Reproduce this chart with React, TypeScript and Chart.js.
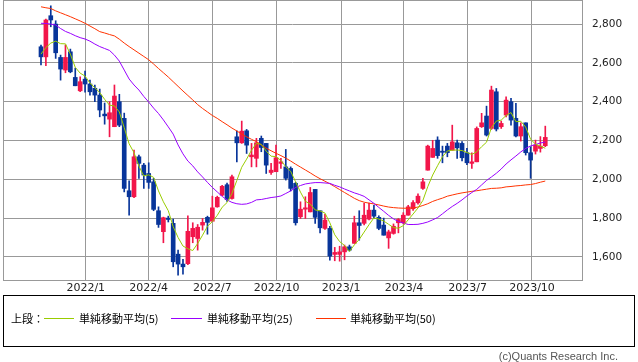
import { useEffect, useRef } from 'react';
import { Chart, registerables } from 'chart.js';

Chart.register(...registerables);

// Weekly candles, first week ending 2021-10-29
const firstWeek = '2021-10-29';

const opens = [
  2683, 2631, 2843, 2800, 2628, 2563, 2657, 2525, 2456, 2516,
  2491, 2469, 2434, 2336, 2310, 2271, 2400, 2314, 1941, 1910,
  2116, 2073, 2030, 1987, 1838, 1730, 1800, 1773, 1614, 1563,
  1565, 1704, 1695, 1764, 1804, 1784, 1858, 1918, 1972, 1901,
  2219, 2188, 2250, 2116, 2108, 2211, 2185, 2035, 2039, 2082,
  2064, 2056, 1979, 1807, 1846, 1832, 1948, 1838, 1747, 1747,
  1613, 1613, 1626, 1652, 1670, 1776, 1773, 1795, 1841, 1804,
  1764, 1698, 1721, 1776, 1776, 1815, 1848, 1879, 1953, 2047,
  2113, 2202, 2145, 2171, 2150, 2188, 2185, 2137, 2082, 2090,
  2271, 2326, 2262, 2451, 2271, 2331, 2400, 2314, 2223, 2291,
  2137, 2145, 2159, 2173,
];
const highs = [
  2692, 2826, 2894, 2817, 2640, 2692, 2671, 2573, 2528, 2558,
  2511, 2486, 2465, 2393, 2400, 2486, 2438, 2341, 1992, 2150,
  2125, 2082, 2085, 2005, 1858, 1805, 1810, 1795, 1635, 1587,
  1812, 1776, 1767, 1798, 1810, 1913, 1913, 1969, 1980, 2022,
  2250, 2300, 2257, 2185, 2211, 2223, 2185, 2082, 2176, 2108,
  2154, 2064, 1985, 1884, 1910, 1958, 1948, 1838, 1819, 1758,
  1649, 1655, 1661, 1661, 1810, 1838, 1876, 1878, 1866, 1812,
  1800, 1738, 1770, 1798, 1828, 1866, 1890, 1925, 2005, 2176,
  2201, 2219, 2171, 2185, 2279, 2202, 2195, 2159, 2137, 2270,
  2340, 2377, 2480, 2468, 2300, 2425, 2417, 2391, 2291, 2291,
  2168, 2202, 2220, 2274,
];
const lows = [
  2589, 2585, 2786, 2623, 2511, 2549, 2549, 2482, 2451, 2449,
  2434, 2400, 2322, 2284, 2219, 2271, 2271, 1935, 1815, 1905,
  2005, 1953, 1953, 1838, 1752, 1673, 1780, 1549, 1506, 1511,
  1560, 1673, 1635, 1738, 1717, 1784, 1856, 1915, 1886, 1898,
  2090, 2185, 2133, 2064, 2064, 2142, 2030, 2025, 2039, 2056,
  1996, 1940, 1764, 1798, 1798, 1832, 1773, 1724, 1742, 1583,
  1580, 1578, 1585, 1630, 1670, 1686, 1765, 1790, 1800, 1740,
  1712, 1644, 1717, 1724, 1770, 1815, 1840, 1872, 1948, 2047,
  2113, 2108, 2085, 2116, 2150, 2108, 2095, 2076, 2056, 2090,
  2267, 2223, 2257, 2249, 2262, 2322, 2279, 2219, 2197, 2125,
  2005, 2130, 2140, 2168,
];
const closes = [
  2631, 2821, 2821, 2652, 2568, 2628, 2554, 2482, 2503, 2491,
  2451, 2434, 2357, 2327, 2343, 2429, 2279, 1953, 1910, 2116,
  2082, 2022, 1984, 1845, 1767, 1802, 1793, 1575, 1563, 1549,
  1732, 1747, 1753, 1778, 1778, 1853, 1907, 1964, 1896, 2013,
  2188, 2248, 2176, 2125, 2188, 2164, 2073, 2047, 2111, 2090,
  2005, 1953, 1776, 1846, 1853, 1932, 1804, 1750, 1790, 1604,
  1623, 1626, 1652, 1635, 1776, 1762, 1815, 1841, 1810, 1747,
  1712, 1729, 1758, 1793, 1815, 1858, 1880, 1913, 1987, 2171,
  2159, 2122, 2139, 2137, 2193, 2162, 2111, 2085, 2090, 2262,
  2291, 2228, 2460, 2259, 2288, 2408, 2305, 2223, 2271, 2137,
  2099, 2176, 2171, 2216,
];
const ma5 = [
  2645, 2679, 2702, 2712, 2699, 2698, 2645, 2577, 2547, 2532,
  2496, 2472, 2447, 2412, 2382, 2378, 2347, 2266, 2183, 2137,
  2068, 2017, 2023, 2010, 1940, 1884, 1838, 1756, 1700, 1656,
  1642, 1633, 1669, 1712, 1758, 1782, 1814, 1856, 1880, 1927,
  1994, 2062, 2104, 2150, 2185, 2180, 2145, 2119, 2117, 2097,
  2065, 2041, 1987, 1934, 1887, 1872, 1842, 1837, 1826, 1776,
  1714, 1679, 1659, 1628, 1662, 1690, 1728, 1766, 1801, 1795,
  1785, 1768, 1751, 1748, 1761, 1791, 1821, 1852, 1891, 1962,
  2022, 2070, 2116, 2146, 2150, 2151, 2148, 2138, 2128, 2142,
  2168, 2191, 2266, 2300, 2305, 2329, 2344, 2297, 2299, 2269,
  2207, 2181, 2171, 2160,
];
const ma25 = [
  2804, 2803, 2800, 2795, 2777, 2762, 2752, 2740, 2730, 2723,
  2712, 2697, 2684, 2674, 2664, 2640, 2609, 2563, 2517, 2486,
  2460, 2427, 2398, 2367, 2339, 2306, 2270, 2233, 2177, 2131,
  2094, 2069, 2038, 2012, 1984, 1958, 1935, 1912, 1894, 1881,
  1874, 1871, 1873, 1881, 1894, 1896, 1901, 1906, 1909, 1914,
  1927, 1940, 1958, 1968, 1976, 1980, 1983, 1983, 1981, 1979,
  1969, 1961, 1950, 1940, 1930, 1922, 1912, 1894, 1876, 1855,
  1835, 1814, 1796, 1783, 1775, 1767, 1767, 1768, 1773, 1780,
  1791, 1803, 1822, 1842, 1860, 1876, 1894, 1914, 1932, 1948,
  1971, 1994, 2012, 2031, 2053, 2079, 2100, 2120, 2141, 2159,
  2172, 2179, 2187, 2192,
];
const ma50 = [
  2889, 2884, 2880, 2868, 2858, 2848, 2838, 2827, 2816, 2804,
  2790, 2776, 2761, 2754, 2746, 2739, 2722, 2702, 2684, 2667,
  2650, 2633, 2616, 2594, 2571, 2549, 2527, 2503, 2479, 2455,
  2432, 2409, 2385, 2365, 2347, 2329, 2314, 2297, 2281, 2264,
  2249, 2233, 2219, 2206, 2194, 2177, 2160, 2147, 2134, 2122,
  2109, 2094, 2078, 2063, 2048, 2033, 2017, 2003, 1990, 1977,
  1962, 1947, 1932, 1917, 1902, 1890, 1882, 1877, 1873, 1868,
  1862, 1857, 1854, 1852, 1851, 1851, 1852, 1857, 1865, 1874,
  1886, 1895, 1903, 1913, 1919, 1925, 1930, 1934, 1938, 1941,
  1945, 1949, 1953, 1954, 1956, 1961, 1963, 1966, 1968, 1971,
  1973, 1978, 1985, 1991,
];

const tickLabels = ['2022/1', '2022/4', '2022/7', '2022/10', '2023/1', '2023/4', '2023/7', '2023/10'];
const tickDates = ['2022-01-01', '2022-04-01', '2022-07-01', '2022-10-01', '2023-01-01', '2023-04-01', '2023-07-01', '2023-10-01'];
const yTicks = [1600, 1800, 2000, 2200, 2400, 2600, 2800];

const seriesNames = ['単純移動平均(5)', '単純移動平均(25)', '単純移動平均(50)'];
const seriesColors = ['#99cc00', '#9900ff', '#ff3300'];

const UP = '#f2164a';
const DOWN = '#08359a';

function weekPos(d: string) {
  return (Date.parse(d) - Date.parse(firstWeek)) / (7 * 86400000);
}

const framePlugin = {
  id: 'frame',
  beforeDatasetsDraw(chart: any) {
    const { ctx, chartArea: a } = chart;
    ctx.save();
    ctx.strokeStyle = '#999999';
    ctx.lineWidth = 1;
    ctx.strokeRect(Math.round(a.left) + 0.5, Math.round(a.top) + 0.5, Math.round(a.right - a.left), Math.round(a.bottom - a.top));
    ctx.restore();
  },
};

export default function App() {
  const ref = useRef<HTMLCanvasElement>(null);

  useEffect(() => {
    const canvas = ref.current;
    if (!canvas) return;
    const colors = closes.map((c, i) => (c >= opens[i] ? UP : DOWN));
    const maSets = [ma5, ma25, ma50].map((arr, k) => ({
      type: 'line' as const,
      label: seriesNames[k],
      data: arr.map((v, i) => ({ x: i, y: v })),
      borderColor: seriesColors[k],
      backgroundColor: seriesColors[k],
      borderWidth: 1,
      pointRadius: 0,
      tension: 0,
      order: k,
    }));
    const chart = new Chart(canvas, {
      type: 'bar',
      data: {
        datasets: [
          ...maSets,
          {
            type: 'bar',
            label: 'body',
            data: opens.map((o, i) => ({ x: i, y: [o, closes[i]] })),
            backgroundColor: colors,
            barThickness: 4,
            grouped: false,
            minBarLength: 1,
            order: 3,
          },
          {
            type: 'bar',
            label: 'wick',
            data: lows.map((l, i) => ({ x: i, y: [l, highs[i]] })),
            backgroundColor: colors,
            barThickness: 1,
            grouped: false,
            order: 4,
          },
        ] as any,
      },
      options: {
        animation: false,
        responsive: false,
        devicePixelRatio: 1,
        layout: { padding: { left: 3, top: 0, right: 0, bottom: 0 } },
        plugins: { legend: { display: false }, tooltip: { enabled: false } },
        scales: {
          x: {
            type: 'linear',
            min: -7.76,
            max: 110.5,
            offset: false,
            grid: { color: '#999999', offset: false, drawTicks: false, lineWidth: 1 },
            border: { display: false },
            ticks: {
              autoSkip: false,
              maxRotation: 0,
              minRotation: 0,
              padding: 2,
              color: '#222',
              font: { family: 'DejaVu Sans', size: 11 },
              callback: (_v: any, i: number) => tickLabels[i],
            },
            afterBuildTicks: (s: any) => {
              s.ticks = tickDates.map((d) => ({ value: weekPos(d) }));
            },
            afterFit: (s: any) => {
              s.height = 16;
              s.paddingLeft = 0;
              s.paddingRight = 0;
            },
          },
          y: {
            type: 'linear',
            position: 'right',
            min: 1481,
            max: 2924,
            grid: { color: '#999999', drawTicks: false, lineWidth: 1 },
            border: { display: false },
            ticks: {
              padding: 10,
              color: '#222',
              font: { family: 'DejaVu Sans', size: 10.5 },
              callback: (v: any) => Number(v).toLocaleString('en-US'),
            },
            afterBuildTicks: (s: any) => {
              s.ticks = yTicks.map((v) => ({ value: v }));
            },
            afterFit: (s: any) => {
              s.width = 56;
              s.paddingTop = 0;
              s.paddingBottom = 0;
            },
          },
        },
      } as any,
      plugins: [framePlugin],
    });
    return () => chart.destroy();
  }, []);

  const legendText: any = {
    position: 'absolute',
    top: 312,
    fontFamily: '"Noto Sans CJK JP", sans-serif',
    fontSize: 11,
    lineHeight: '12px',
    color: '#000',
    whiteSpace: 'nowrap',
  };
  const lineStyle = (left: number, width: number, color: string): any => ({
    position: 'absolute',
    left,
    top: 318,
    width,
    height: 1,
    background: color,
  });

  return (
    <div style={{ position: 'absolute', left: 0, top: 0, width: 638, height: 362, background: '#fff', overflow: 'hidden' }}>
      <canvas ref={ref} width={638} height={296} style={{ position: 'absolute', left: 0, top: 0, width: 638, height: 296 }} />
      <div style={{ position: 'absolute', left: 3, top: 295, width: 632, height: 52, border: '1px solid #000', boxSizing: 'border-box' }} />
      <span style={{ ...legendText, left: 11 }}>上段：</span>
      <div style={lineStyle(44, 30, seriesColors[0])} />
      <span style={{ ...legendText, left: 79 }}>{seriesNames[0]}</span>
      <div style={lineStyle(171, 31, seriesColors[1])} />
      <span style={{ ...legendText, left: 207 }}>{seriesNames[1]}</span>
      <div style={lineStyle(316, 30, seriesColors[2])} />
      <span style={{ ...legendText, left: 350 }}>{seriesNames[2]}</span>
      <span
        style={{
          position: 'absolute',
          right: 20,
          top: 349,
          fontFamily: '"Liberation Sans", Arial, sans-serif',
          fontSize: 11,
          lineHeight: '14px',
          color: '#555',
          whiteSpace: 'nowrap',
        }}
      >
        (c)Quants Research Inc.
      </span>
    </div>
  );
}
